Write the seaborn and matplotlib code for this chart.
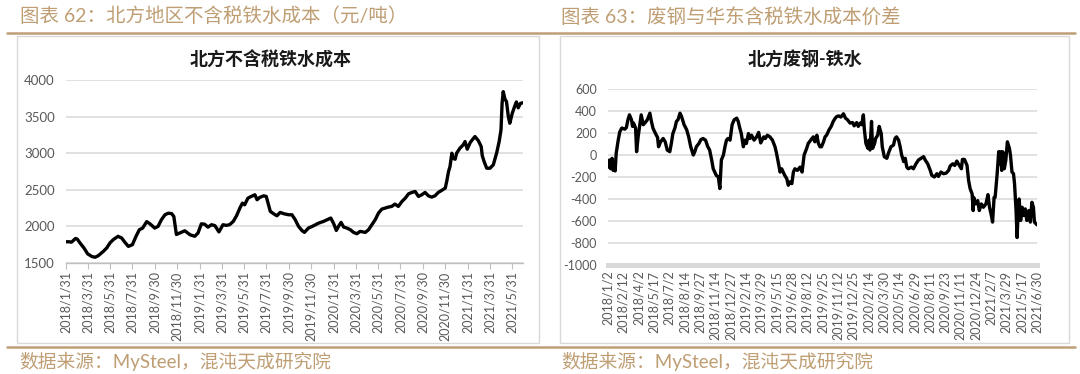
import numpy as np
import pandas as pd
import matplotlib
matplotlib.use('Agg')
import matplotlib.pyplot as plt
from matplotlib.patches import Rectangle
from matplotlib.lines import Line2D
import seaborn as sns

sns.set_theme(style='white')
plt.rcParams['font.family'] = ['Lato', 'Noto Sans CJK SC', 'DejaVu Sans']
plt.rcParams['axes.unicode_minus'] = False

# left chart: 北方不含税铁水成本
cost_dates = ['2018-01-31', '2018-02-08', '2018-02-15', '2018-02-26', '2018-03-03', '2018-03-10',
              '2018-03-21', '2018-03-31', '2018-04-11', '2018-04-20', '2018-04-29', '2018-05-13',
              '2018-05-22', '2018-05-31', '2018-06-09', '2018-06-22', '2018-07-02', '2018-07-11',
              '2018-07-20', '2018-07-31', '2018-08-10', '2018-08-19', '2018-08-28', '2018-09-08',
              '2018-09-17', '2018-09-30', '2018-10-09', '2018-10-18', '2018-10-28', '2018-11-06',
              '2018-11-15', '2018-11-21', '2018-11-28', '2018-12-07', '2018-12-21', '2019-01-04',
              '2019-01-17', '2019-01-26', '2019-02-04', '2019-02-13', '2019-02-22', '2019-03-04',
              '2019-03-13', '2019-03-24', '2019-04-04', '2019-04-13', '2019-04-22', '2019-05-02',
              '2019-05-11', '2019-05-20', '2019-05-27', '2019-06-02', '2019-06-11', '2019-06-20',
              '2019-06-30', '2019-07-06', '2019-07-13', '2019-07-24', '2019-07-31', '2019-08-05',
              '2019-08-11', '2019-08-20', '2019-08-29', '2019-09-07', '2019-09-17', '2019-09-30',
              '2019-10-09', '2019-10-18', '2019-10-27', '2019-11-05', '2019-11-12', '2019-11-23',
              '2019-12-07', '2019-12-21', '2020-01-03', '2020-01-17', '2020-01-23', '2020-01-31',
              '2020-02-07', '2020-02-13', '2020-02-20', '2020-02-27', '2020-03-07', '2020-03-16',
              '2020-03-25', '2020-04-03', '2020-04-12', '2020-04-26', '2020-05-05', '2020-05-14',
              '2020-05-23', '2020-06-01', '2020-06-10', '2020-06-19', '2020-06-28', '2020-07-07',
              '2020-07-16', '2020-07-25', '2020-08-04', '2020-08-13', '2020-08-22', '2020-08-31',
              '2020-09-09', '2020-09-18', '2020-09-27', '2020-10-06', '2020-10-15', '2020-10-24',
              '2020-11-02', '2020-11-11', '2020-11-20', '2020-11-30', '2020-12-04', '2020-12-09',
              '2020-12-13', '2020-12-18', '2020-12-20', '2020-12-27', '2020-12-31', '2021-01-09',
              '2021-01-18', '2021-01-23', '2021-01-29', '2021-02-06', '2021-02-13', '2021-02-19',
              '2021-02-28', '2021-03-08', '2021-03-11', '2021-03-16', '2021-03-23', '2021-04-01',
              '2021-04-10', '2021-04-19', '2021-04-26', '2021-05-01', '2021-05-04', '2021-05-07',
              '2021-05-12', '2021-05-16', '2021-05-21', '2021-05-25', '2021-06-01', '2021-06-08',
              '2021-06-12', '2021-06-17', '2021-06-23', '2021-06-30']
cost_values = [1790, 1790, 1785, 1835, 1825, 1775, 1705, 1625, 1590, 1578, 1600, 1660,
               1705, 1775, 1820, 1865, 1840, 1780, 1727, 1750, 1865, 1955, 1977, 2065,
               2035, 1977, 2000, 2090, 2160, 2180, 2175, 2135, 1890, 1910, 1940, 1886,
               1865, 1910, 2035, 2030, 1990, 2023, 2010, 1925, 2023, 2014, 2023, 2068,
               2145, 2250, 2318, 2295, 2386, 2409, 2432, 2364, 2395, 2418, 2409, 2318,
               2205, 2173, 2145, 2191, 2173, 2159, 2159, 2091, 2000, 1945, 1918, 1977,
               2009, 2045, 2068, 2100, 2114, 2036, 1945, 2000, 2055, 1991, 1977, 1955,
               1918, 1900, 1932, 1918, 1955, 2023, 2091, 2182, 2236, 2250, 2264, 2273,
               2305, 2273, 2341, 2386, 2445, 2464, 2477, 2409, 2432, 2464, 2418, 2400,
               2418, 2464, 2491, 2523, 2614, 2750, 2818, 3000, 2932, 2918, 3000, 3068,
               3114, 3159, 3055, 3145, 3191, 3227, 3173, 3091, 2964, 2886, 2795, 2795,
               2841, 3000, 3159, 3318, 3682, 3841, 3736, 3705, 3500, 3409, 3550, 3650,
               3700, 3620, 3680, 3690]
cost_ticks = ['2018-01-31', '2018-03-31', '2018-05-31', '2018-07-31', '2018-09-30', '2018-11-30',
              '2019-01-31', '2019-03-31', '2019-05-31', '2019-07-31', '2019-09-30', '2019-11-30',
              '2020-01-31', '2020-03-31', '2020-05-31', '2020-07-31', '2020-09-30', '2020-11-30',
              '2021-01-31', '2021-03-31', '2021-05-31']
cost_tick_labels = ['2018/1/31', '2018/3/31', '2018/5/31', '2018/7/31', '2018/9/30', '2018/11/30',
                    '2019/1/31', '2019/3/31', '2019/5/31', '2019/7/31', '2019/9/30', '2019/11/30',
                    '2020/1/31', '2020/3/31', '2020/5/31', '2020/7/31', '2020/9/30', '2020/11/30',
                    '2021/1/31', '2021/3/31', '2021/5/31']

# right chart: 北方废钢-铁水 (trading-day index)
spread_idx = [0, 3, 5, 8, 10, 13, 14, 16, 20, 23, 27, 33, 36, 39, 42, 46, 48, 50, 54, 56,
              59, 62, 65, 69, 72, 77, 82, 85, 88, 93, 97, 99, 103, 108, 112, 116, 121, 124, 127, 131,
              134, 137, 141, 144, 149, 154, 158, 162, 167, 170, 173, 178, 182, 186, 191, 195, 199, 203, 206, 209,
              212, 216, 219, 222, 226, 229, 232, 235, 239, 243, 247, 252, 255, 258, 261, 265, 268, 271, 275, 278,
              281, 286, 291, 295, 299, 305, 308, 312, 317, 322, 327, 330, 333, 337, 340, 343, 346, 350, 353, 356,
              360, 363, 366, 371, 376, 380, 384, 389, 392, 397, 402, 405, 409, 412, 415, 418, 422, 425, 428, 433,
              437, 441, 445, 448, 452, 456, 461, 465, 469, 474, 479, 482, 487, 490, 494, 497, 500, 502, 505, 509,
              511, 513, 516, 518, 522, 524, 528, 531, 535, 537, 541, 546, 549, 554, 559, 562, 565, 569, 572, 575,
              579, 582, 585, 588, 594, 598, 603, 608, 613, 618, 621, 626, 631, 634, 639, 644, 647, 652, 657, 662,
              667, 670, 675, 679, 683, 686, 692, 694, 698, 703, 706, 709, 713, 715, 716, 720, 724, 727, 731, 735,
              740, 744, 747, 750, 753, 756, 758, 762, 765, 767, 769, 771, 773, 776, 779, 782, 786, 788, 791, 794,
              796, 799, 801, 803, 805, 808, 811, 814, 817, 820, 824, 827, 830, 833, 835, 840]
spread_values = [-110, -45, -125, -30, -140, -80, -145, 15, 135, 210, 245, 235, 250, 320, 365, 320, 260, 290, 245, 30,
                 165, 265, 365, 275, 290, 320, 380, 305, 245, 195, 160, 75, 120, 150, 120, 45, 30, 105, 195, 245,
                 305, 320, 380, 350, 275, 230, 165, 75, 0, 30, 75, 105, 140, 150, 135, 80, 45, -45, -125, -155,
                 -185, -200, -305, -45, 0, 75, 135, 150, 135, 275, 320, 335, 305, 245, 195, 75, 135, 105, 195, 150,
                 180, 135, 165, 205, 110, 165, 150, 180, 165, 135, 75, 15, -60, -155, -125, -155, -185, -215, -275, -245,
                 -260, -155, -125, -140, -110, -155, 0, 60, 105, 135, 165, 120, 180, 105, 75, 75, 120, 165, 180, 230,
                 260, 305, 335, 350, 355, 345, 375, 335, 320, 290, 295, 265, 295, 260, 290, 275, 365, 230, 105, 60,
                 135, 45, 305, 60, 105, 150, 180, 260, 195, 75, -15, -30, 15, 75, 90, 150, 165, 135, 75, 0,
                 -60, -30, -110, -125, -110, -125, -80, -45, -30, -15, -45, -80, -140, -185, -200, -170, -195, -155, -170, -165,
                 -140, -100, -80, -95, -55, -80, -125, -40, -40, -95, -230, -305, -355, -505, -385, -445, -415, -505, -445, -475,
                 -445, -360, -475, -535, -610, -385, -385, -170, 30, -80, 30, -140, 30, -125, -45, 120, 60, 0, -155, -170,
                 -260, -505, -750, -535, -400, -595, -475, -550, -490, -595, -505, -610, -430, -475, -610, -635]
spread_tick_labels = ['2018/1/2', '2018/2/12', '2018/4/2', '2018/5/17', '2018/7/2', '2018/8/14', '2018/9/27',
                      '2018/11/14', '2018/12/27', '2019/2/14', '2019/3/29', '2019/5/15', '2019/6/28', '2019/8/12',
                      '2019/9/25', '2019/11/12', '2019/12/25', '2020/2/14', '2020/3/30', '2020/5/14', '2020/6/29',
                      '2020/8/11', '2020/9/23', '2020/11/11', '2020/12/24', '2021/2/7', '2021/3/29', '2021/5/17',
                      '2021/6/30']

W, H = 1080, 374
tan = '#BF9E74'
grid_c = '#D9D9D9'
tick_c = '#595959'

fig = plt.figure(figsize=(W / 100, H / 100), dpi=100)


def fx(x):
    return x / W


def fy(y):
    return 1 - y / H


# frames and header / footer lines
for x0, x1 in [(17, 539), (560, 1069)]:
    fig.add_artist(Rectangle((fx(x0), fy(343)), fx(x1 - x0), (343 - 36) / H, transform=fig.transFigure,
                             facecolor='white', edgecolor='#D9D9D9', linewidth=1.0, zorder=0))
fig.add_artist(Line2D([fx(7), fx(1075)], [fy(33), fy(33)], color=tan, linewidth=1.8, transform=fig.transFigure))
fig.add_artist(Line2D([fx(7), fx(1075)], [fy(347), fy(347)], color=tan, linewidth=1.8, transform=fig.transFigure))

fig.text(fx(20), fy(16), '图表 62：北方地区不含税铁水成本（元/吨）', fontsize=14, color=tan, va='center', ha='left')
fig.text(fx(561), fy(16), '图表 63：废钢与华东含税铁水成本价差', fontsize=14, color=tan, va='center', ha='left')
fig.text(fx(19), fy(361), '数据来源：MySteel，混沌天成研究院', fontsize=13.5, color=tan, va='center', ha='left')
fig.text(fx(561), fy(361), '数据来源：MySteel，混沌天成研究院', fontsize=13.5, color=tan, va='center', ha='left')

# left panel
ax1 = fig.add_axes([fx(66), fy(263), fx(523 - 66), (263 - 80) / H])
df1 = pd.DataFrame({'date': pd.to_datetime(cost_dates), 'cost': cost_values})
sns.lineplot(data=df1, x='date', y='cost', ax=ax1, color='black', linewidth=2.4)
ax1.set_xlim(pd.Timestamp('2018-01-31'), pd.Timestamp('2021-06-30'))
ax1.set_ylim(1500, 4000)
ax1.set_yticks(np.arange(1500, 4001, 500))
ax1.set_xticks(pd.to_datetime(cost_ticks))
ax1.set_xticklabels(cost_tick_labels, rotation=90)
ax1.yaxis.grid(True, color=grid_c, linewidth=1.1)
ax1.set_axisbelow(True)
for s in ['top', 'right', 'left']:
    ax1.spines[s].set_visible(False)
ax1.spines['bottom'].set_color('#BFBFBF')
ax1.spines['bottom'].set_linewidth(1.0)
ax1.tick_params(axis='x', length=4, width=0.8, color='#BFBFBF', labelsize=9, labelcolor=tick_c, pad=2, bottom=True)
ax1.tick_params(axis='y', length=0, labelsize=9.5, labelcolor=tick_c, pad=8)
ax1.set_xlabel('')
ax1.set_ylabel('')
fig.text(fx(271), fy(60), '北方不含税铁水成本', fontsize=13, fontweight='bold', color='#1A1A1A', ha='center', va='center')

# right panel
ax2 = fig.add_axes([fx(608), fy(265), fx(1037 - 608), (265 - 89) / H])
df2 = pd.DataFrame({'idx': spread_idx, 'spread': spread_values})
sns.lineplot(data=df2, x='idx', y='spread', ax=ax2, color='black', linewidth=2.4)
ax2.set_xlim(0, 840)
ax2.set_ylim(-1000, 600)
ax2.set_yticks(np.arange(-1000, 601, 200))
ax2.set_xticks(np.arange(0, 841, 30))
ax2.set_xticklabels(spread_tick_labels, rotation=90)
ax2.yaxis.grid(True, color=grid_c, linewidth=1.1)
ax2.set_axisbelow(True)
for s in ['top', 'right', 'left']:
    ax2.spines[s].set_visible(False)
ax2.spines['bottom'].set_color(grid_c)
ax2.spines['bottom'].set_linewidth(3.6)
ax2.tick_params(axis='x', length=0, labelsize=9, labelcolor=tick_c, pad=4)
ax2.tick_params(axis='y', length=0, labelsize=9, labelcolor=tick_c, pad=8)
ax2.set_xlabel('')
ax2.set_ylabel('')
fig.text(fx(805), fy(60), '北方废钢-铁水', fontsize=13, fontweight='bold', color='#1A1A1A', ha='center', va='center')

fig.savefig('out.png', dpi=100)
